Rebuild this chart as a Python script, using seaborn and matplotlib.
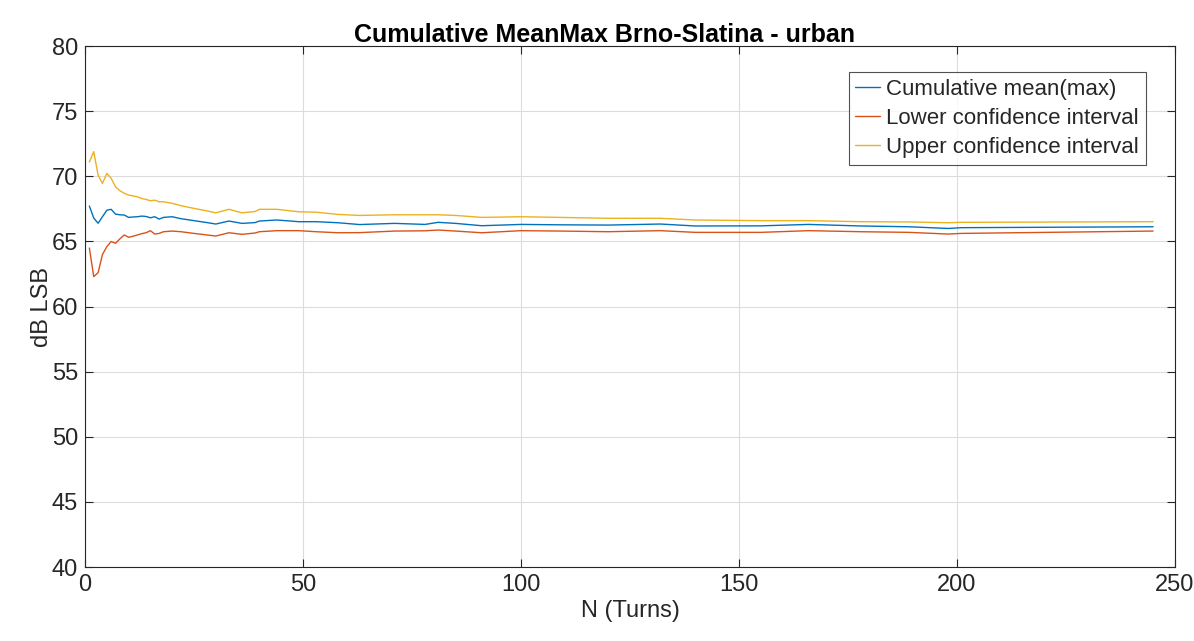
import pandas as pd
import seaborn as sns
import matplotlib.pyplot as plt

# values (N = turn index)
turns = [1, 2, 3, 4, 5, 6, 7, 8, 9, 10, 11, 12, 13, 14, 15, 16, 17, 18, 20, 22,
         25, 28, 30, 33, 36, 39, 40, 44, 49, 53, 58, 63, 71, 78, 81, 85, 91, 100,
         109, 120, 132, 140, 155, 166, 178, 189, 198, 201, 245]

cum_mean = [67.72, 66.8, 66.4, 66.9, 67.4, 67.47, 67.1, 67.05, 67.03, 66.85, 66.88,
            66.9, 66.95, 66.92, 66.82, 66.9, 66.72, 66.85, 66.9, 66.75, 66.6, 66.45,
            66.34, 66.57, 66.39, 66.45, 66.57, 66.65, 66.52, 66.52, 66.44, 66.3, 66.39,
            66.31, 66.47, 66.39, 66.21, 66.31, 66.28, 66.26, 66.34, 66.19, 66.2, 66.31,
            66.19, 66.13, 66.0, 66.06, 66.13]

lower_ci = [64.5, 62.3, 62.6, 64.0, 64.6, 65.0, 64.86, 65.2, 65.5, 65.32, 65.4, 65.5,
            65.6, 65.67, 65.83, 65.57, 65.62, 65.75, 65.8, 65.75, 65.62, 65.5, 65.42,
            65.67, 65.55, 65.65, 65.75, 65.83, 65.83, 65.75, 65.67, 65.68, 65.8, 65.82,
            65.88, 65.8, 65.67, 65.83, 65.8, 65.75, 65.83, 65.7, 65.7, 65.83, 65.75,
            65.7, 65.57, 65.62, 65.8]

upper_ci = [71.1, 71.9, 70.1, 69.46, 70.23, 69.85, 69.2, 68.9, 68.7, 68.56, 68.5, 68.43,
            68.3, 68.23, 68.13, 68.17, 68.05, 68.05, 67.93, 67.75, 67.54, 67.35, 67.2,
            67.47, 67.2, 67.3, 67.47, 67.47, 67.28, 67.25, 67.08, 67.0, 67.05, 67.05,
            67.05, 67.0, 66.85, 66.9, 66.85, 66.78, 66.78, 66.65, 66.6, 66.6, 66.52,
            66.5, 66.44, 66.47, 66.52]

series_names = ['Cumulative mean(max)', 'Lower confidence interval', 'Upper confidence interval']
series_colors = ['#0072BD', '#D95319', '#EDB120']

sns.set_theme(style="whitegrid")
plt.rcParams['font.family'] = ['Liberation Sans', 'DejaVu Sans']

frames = []
for name, vals in zip(series_names, [cum_mean, lower_ci, upper_ci]):
    frames.append(pd.DataFrame({'N': turns, 'val': vals, 'series': name}))
df = pd.concat(frames, ignore_index=True)

fig = plt.figure(figsize=(11.94, 6.41), dpi=100)
ax = fig.add_axes([0.0712, 0.1154, 0.9128, 0.8126])

sns.lineplot(data=df, x='N', y='val', hue='series', hue_order=series_names,
             palette=series_colors, linewidth=1.0, ax=ax)

ax.set_xlim(0, 250)
ax.set_ylim(40, 80)
ax.set_xticks(range(0, 251, 50))
ax.set_yticks(range(40, 81, 5))
ax.grid(True, color='#dcdcdc', linewidth=0.8)
for s in ax.spines.values():
    s.set_color('#262626')
    s.set_linewidth(0.8)
ax.tick_params(direction='in', length=6, width=0.8, colors='#262626',
               labelsize=17, top=True, right=True, bottom=True, left=True, pad=5)

ax.set_xlabel('N (Turns)', fontsize=17, color='#262626', labelpad=3)
ax.set_ylabel('dB LSB', fontsize=17, color='#262626', labelpad=-1)
ax.set_title('Cumulative MeanMax Brno-Slatina - urban', fontsize=18,
             fontweight='bold', color='#000000', x=0.477, pad=3)

leg = ax.legend(loc='upper right', bbox_to_anchor=(0.9734, 0.950), fontsize=16,
                frameon=True, fancybox=False, handlelength=1.1, handletextpad=0.3,
                borderpad=0.3, labelspacing=0.36, borderaxespad=0)
leg.get_frame().set_edgecolor('#262626')
leg.get_frame().set_linewidth(0.8)
for line in leg.get_lines():
    line.set_linewidth(1.0)

fig.savefig('out.png', dpi=100)
